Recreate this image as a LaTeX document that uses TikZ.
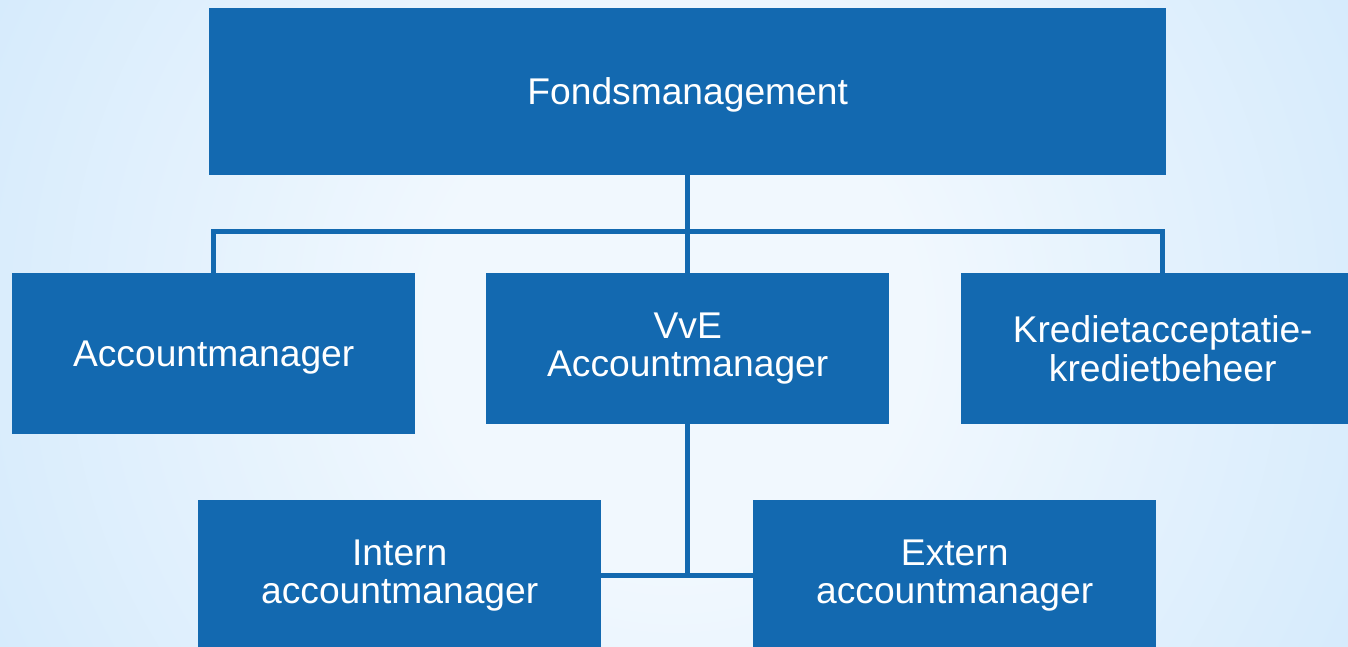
\documentclass[tikz,border=0pt]{standalone}
\usepackage{fontspec}
\setmainfont{Liberation Sans}
\definecolor{orgblue}{RGB}{19,105,176}
\definecolor{bginner}{RGB}{241,248,254}
\definecolor{bgouter}{RGB}{202,229,251}
\pgfdeclareradialshading{bgglow}{\pgfpoint{0bp}{0bp}}{color(0bp)=(bginner); color(8bp)=(bginner); color(32bp)=(bgouter); color(50bp)=(bgouter)}

\begin{document}
\begin{tikzpicture}[x=1pt,y=-1pt,
  unit/.style={fill=orgblue,text=white,inner sep=0pt,anchor=north west,align=center,
    minimum width=403pt,minimum height=151pt,font=\fontsize{37.2}{38.5}\selectfont,
    execute at begin node={\rule{0pt}{33pt}}},
  conn/.style={draw=orgblue,line width=5pt}]
\useasboundingbox (0,0) rectangle (1348,647);
\clip (0,0) rectangle (1348,647);
\fill[bgouter] (0,0) rectangle (1348,647);
\shade[shading=bgglow] (674,323.5) circle (760);

\node[unit,minimum width=957pt,minimum height=167pt] (fonds) at (209,8) {Fondsmanagement};
\node[unit,minimum height=161pt] (acct) at (12,273) {Accountmanager};
\node[unit] (vve) at (486,273) {VvE\\Accountmanager};
\node[unit] (kred) at (961,273) {Kredietacceptatie-\\kredietbeheer};
\node[unit] (intern) at (198,500) {Intern\\accountmanager};
\node[unit] (extern) at (753,500) {Extern\\accountmanager};

\coordinate (split) at (687.5,231);
\draw[conn] (fonds.south) -- (vve.north);
\draw[conn] (acct.north) |- (split) -| (kred.north);
\draw[conn] (vve.south) -- (vve.south |- intern.east);
\draw[conn] (intern.east) -- (extern.west);

\end{tikzpicture}
\end{document}
